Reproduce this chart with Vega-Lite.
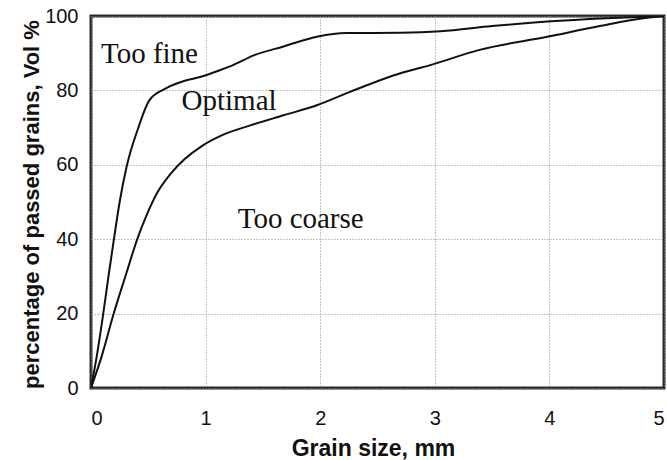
{
  "$schema": "https://vega.github.io/schema/vega-lite/v6.json",
  "autosize": "none",
  "padding": {"left": 91, "top": 16, "right": 3, "bottom": 72},
  "width": 573,
  "height": 372,
  "background": "white",
  "config": {
    "view": {"stroke": "#2a2a2a", "strokeWidth": 3},
    "axis": {
      "domain": false,
      "ticks": false,
      "grid": true,
      "gridColor": "#8a8a8a",
      "gridDash": [1, 2],
      "gridWidth": 1,
      "labelFont": "Liberation Sans",
      "labelFontSize": 20,
      "labelColor": "#111",
      "titleFont": "Liberation Sans",
      "titleFontWeight": "bold",
      "titleColor": "#111"
    }
  },
  "layer": [
    {
      "data": {
        "values": [
          {"series": "fine", "x": 0, "y": 0},
          {"series": "fine", "x": 0.05, "y": 8.5},
          {"series": "fine", "x": 0.1, "y": 18.5},
          {"series": "fine", "x": 0.15, "y": 29.5},
          {"series": "fine", "x": 0.2, "y": 40},
          {"series": "fine", "x": 0.25, "y": 50},
          {"series": "fine", "x": 0.31, "y": 59.4},
          {"series": "fine", "x": 0.41, "y": 69.7},
          {"series": "fine", "x": 0.51, "y": 77.4},
          {"series": "fine", "x": 0.65, "y": 80.5},
          {"series": "fine", "x": 0.82, "y": 82.6},
          {"series": "fine", "x": 0.95, "y": 83.6},
          {"series": "fine", "x": 1.13, "y": 85.5},
          {"series": "fine", "x": 1.24, "y": 86.8},
          {"series": "fine", "x": 1.42, "y": 89.4},
          {"series": "fine", "x": 1.68, "y": 91.8},
          {"series": "fine", "x": 1.98, "y": 94.5},
          {"series": "fine", "x": 2.23, "y": 95.4},
          {"series": "fine", "x": 2.7, "y": 95.5},
          {"series": "fine", "x": 3.05, "y": 95.9},
          {"series": "fine", "x": 3.5, "y": 97.3},
          {"series": "fine", "x": 3.98, "y": 98.5},
          {"series": "fine", "x": 4.5, "y": 99.4},
          {"series": "fine", "x": 5, "y": 100},
          {"series": "optimal", "x": 0, "y": 0},
          {"series": "optimal", "x": 0.093, "y": 8.5},
          {"series": "optimal", "x": 0.195, "y": 19.7},
          {"series": "optimal", "x": 0.31, "y": 31},
          {"series": "optimal", "x": 0.4, "y": 39.7},
          {"series": "optimal", "x": 0.49, "y": 46.8},
          {"series": "optimal", "x": 0.58, "y": 52.6},
          {"series": "optimal", "x": 0.69, "y": 57.4},
          {"series": "optimal", "x": 0.82, "y": 61.6},
          {"series": "optimal", "x": 0.97, "y": 65.1},
          {"series": "optimal", "x": 1.14, "y": 67.9},
          {"series": "optimal", "x": 1.39, "y": 70.6},
          {"series": "optimal", "x": 1.68, "y": 73.3},
          {"series": "optimal", "x": 1.97, "y": 76},
          {"series": "optimal", "x": 2.26, "y": 79.6},
          {"series": "optimal", "x": 2.7, "y": 84.6},
          {"series": "optimal", "x": 2.96, "y": 86.8},
          {"series": "optimal", "x": 3.39, "y": 90.9},
          {"series": "optimal", "x": 3.98, "y": 94.4},
          {"series": "optimal", "x": 4.41, "y": 97.1},
          {"series": "optimal", "x": 4.82, "y": 99.4},
          {"series": "optimal", "x": 5, "y": 100}
        ]
      },
      "mark": {"type": "line", "interpolate": "monotone", "strokeWidth": 2, "color": "#111", "clip": true},
      "encoding": {
        "x": {
          "field": "x", "type": "quantitative",
          "scale": {"domain": [0, 5], "nice": false},
          "axis": {"values": [0, 1, 2, 3, 4, 5], "format": "d", "title": "Grain size, mm", "titleFontSize": 23, "labelPadding": 20, "titleBaseline": "alphabetic", "titleY": 67, "titleX": 282}
        },
        "y": {
          "field": "y", "type": "quantitative",
          "scale": {"domain": [0, 100], "nice": false},
          "axis": {"values": [0, 20, 40, 60, 80, 100], "format": "d", "title": "percentage of passed grains, Vol %", "titleFontSize": 22, "labelPadding": 13, "titleBaseline": "alphabetic", "titleX": -53, "titleY": 188, "titleAngle": -90}
        },
        "detail": {"field": "series"}
      }
    },
    {
      "data": {
        "values": [
          {"label": "Too fine", "x": 0.087, "y": 87.4},
          {"label": "Optimal", "x": 0.79, "y": 74.7},
          {"label": "Too coarse", "x": 1.28, "y": 43.0}
        ]
      },
      "mark": {"type": "text", "font": "Liberation Serif", "fontSize": 29, "align": "left", "baseline": "alphabetic", "color": "#111"},
      "encoding": {
        "x": {"field": "x", "type": "quantitative"},
        "y": {"field": "y", "type": "quantitative"},
        "text": {"field": "label"}
      }
    }
  ]
}
